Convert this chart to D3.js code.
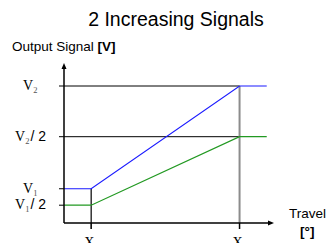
<!DOCTYPE html>
<html>
  <head>
	<meta charset="utf-8">
	<title>2 Increasing Signals</title>
	<script src="https://d3js.org/d3.v7.min.js"></script>
	<style>
		body { margin:0; background:white; font-family: "Liberation Sans", Arial, sans-serif; }
		svg { display:block; background-color:white; }
		.serif { font-family: "Liberation Serif", "Times New Roman", serif; }
	</style>
  </head>
  <body>
	<script>
	//----- data (schematic values)
	var yTickValues = [10, 6.3, 2.5, 1.3];
	var yTickNames  = ["V", "V", "V", "V"];
	var yTickSubs   = ["2", "2", "1", "1"];
	var yTickTails  = ["", "/ 2", "", "/ 2"];
	var xTickValues = [1.3, 8.4];
	var xTickSubs   = ["1", "2"];
	var travel      = [0, 1.3, 8.4, 9.7];
	var signalHigh  = [2.5, 2.5, 10, 10];
	var signalLow   = [1.3, 1.3, 6.3, 6.3];

	var width = 326, height = 243;
	var svg = d3.select("body").append("svg").attr("width", width).attr("height", height);

	//scales
	var x = d3.scaleLinear().domain([0, 10]).range([64, 273]);
	var y = d3.scaleLinear().domain([0, 10]).range([223, 86]);

	//title + axis titles
	svg.append("text").attr("x", 176).attr("y", 26).attr("text-anchor", "middle")
		.style("font-size", "19.5px").text("2 Increasing Signals");
	var ytitle = svg.append("text").attr("x", 12).attr("y", 51).style("font-size", "13.5px");
	ytitle.append("tspan").text("Output Signal ");
	ytitle.append("tspan").style("font-weight", "bold").text("[V]");
	svg.append("text").attr("x", 289).attr("y", 218)
		.style("font-size", "13.5px").text("Travel");
	svg.append("text").attr("x", 300).attr("y", 236)
		.style("font-size", "13.5px").style("font-weight", "bold").text("[°]");

	//reference lines at V2 and V2/2
	svg.append("g").selectAll("line")
		.data([yTickValues[0], yTickValues[1]])
		.enter().append("line")
		.attr("x1", x(0)).attr("x2", x(xTickValues[1]))
		.attr("y1", function(d){ return y(d); }).attr("y2", function(d){ return y(d); })
		.attr("stroke", "black").attr("stroke-width", 1);

	//vertical at X2 (grey) and X1 (black)
	svg.append("line")
		.attr("x1", x(xTickValues[1])).attr("x2", x(xTickValues[1]))
		.attr("y1", y(yTickValues[0])).attr("y2", y(0) + 6)
		.attr("stroke", "#8c8c8c").attr("stroke-width", 2);
	svg.append("line")
		.attr("x1", x(xTickValues[0])).attr("x2", x(xTickValues[0]))
		.attr("y1", y(signalHigh[1])).attr("y2", y(0) + 6)
		.attr("stroke", "black").attr("stroke-width", 1.2);

	//signals
	var line = d3.line()
		.x(function(d){ return x(d[0]); })
		.y(function(d){ return y(d[1]); });
	svg.append("path").datum(d3.zip(travel, signalHigh))
		.attr("d", line).attr("fill", "none").attr("stroke", "#1a1aff").attr("stroke-width", 1.2);
	svg.append("path").datum(d3.zip(travel, signalLow))
		.attr("d", line).attr("fill", "none").attr("stroke", "#229922").attr("stroke-width", 1.2);

	//axes
	svg.append("line").attr("x1", x(0)).attr("x2", x(0)).attr("y1", y(0)).attr("y2", 66)
		.attr("stroke", "black").attr("stroke-width", 1.5);
	svg.append("path").attr("d", "M" + (x(0)-2.5) + ",69 L" + x(0) + ",63 L" + (x(0)+2.5) + ",69 Z");
	svg.append("line").attr("x1", x(0)).attr("x2", x(10) - 2).attr("y1", y(0)).attr("y2", y(0))
		.attr("stroke", "black").attr("stroke-width", 1.5);
	svg.append("path").attr("d", "M" + (x(10)-5) + "," + (y(0)-2.5) + " L" + (x(10)+1) + "," + y(0) + " L" + (x(10)-5) + "," + (y(0)+2.5) + " Z");

	//y ticks
	var yt = svg.append("g").selectAll("g").data(yTickValues).enter().append("g");
	yt.append("line").attr("x1", x(0) - 5).attr("x2", x(0))
		.attr("y1", function(d){ return y(d); }).attr("y2", function(d){ return y(d); })
		.attr("stroke", "black");
	var ylab = yt.append("text")
		.attr("y", function(d){ return y(d) + 4; })
		.attr("x", function(d, i){ return yTickTails[i] ? 15 : 23; })
		.style("font-size", "14px");
	ylab.append("tspan").attr("class", "serif").text(function(d, i){ return yTickNames[i]; });
	ylab.append("tspan").attr("class", "serif").attr("dy", 3).style("font-size", "8.5px").attr("fill", "#555")
		.text(function(d, i){ return yTickSubs[i]; });
	ylab.append("tspan").attr("dy", -3).attr("dx", 1).text(function(d, i){ return yTickTails[i]; });

	//x ticks
	var xt = svg.append("g").selectAll("g").data(xTickValues).enter().append("g");
	xt.append("line").attr("y1", y(0)).attr("y2", y(0) + 6)
		.attr("x1", function(d){ return x(d); }).attr("x2", function(d){ return x(d); })
		.attr("stroke", "black");
	var xlab = xt.append("text").attr("class", "serif")
		.attr("x", function(d){ return x(d) - 7; }).attr("y", 247)
		.style("font-size", "14px");
	xlab.append("tspan").text("X");
	xlab.append("tspan").attr("dy", 3).style("font-size", "8.5px").attr("fill", "#555")
		.text(function(d, i){ return xTickSubs[i]; });
	</script>
  </body>
</html>
